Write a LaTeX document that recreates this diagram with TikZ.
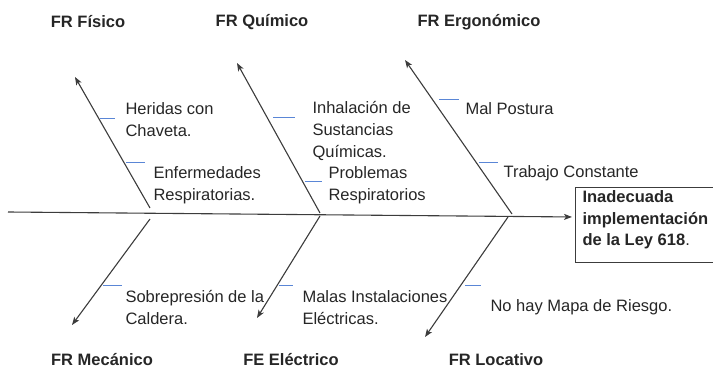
\documentclass[tikz,border=0pt]{standalone}
\usepackage{fontspec}
\setmainfont{Liberation Sans}
\usetikzlibrary{arrows.meta,positioning}
\definecolor{azul}{HTML}{5A86D6}
\definecolor{tinta}{HTML}{262626}

\begin{document}
\begin{tikzpicture}[->,>={Stealth[length=8pt,width=6pt,inset=2pt]},x=1pt,y=-1pt,line width=1.1pt,
		font=\fontsize{16.5}{22}\selectfont,text=tinta,draw=tinta!90]
		\tikzstyle{every node}=[inner sep=0pt]
		\tikzstyle{cabecera}=[font=\fontsize{16.5}{22}\selectfont\bfseries]
		\tikzstyle{causa}=[anchor=west,align=left]
		\tikzstyle{marca}=[-,draw=azul,line width=1pt]
		
		\useasboundingbox (0,0) rectangle (713,371);
		
		% categorias
		\node[cabecera] (fisico) at (88,22) {FR Físico};
		\node[cabecera] (quimico) at (262,22) {FR Químico};
		\node[cabecera] (ergonomico) at (479,22) {FR Ergonómico};
		\node[cabecera] (mecanico) at (102,360) {FR Mecánico};
		\node[cabecera] (electrico) at (291,360) {FE Eléctrico};
		\node[cabecera] (locativo) at (496,360) {FR Locativo};
		
		% efecto
		\node[draw,line width=1pt,anchor=north west,minimum width=150,minimum height=75] (caja) at (575,187) {};
		\node[anchor=north west,align=left,font=\fontsize{16.5}{21.5}\selectfont\bfseries]
			(efecto) at ([xshift=7pt,yshift=-3pt]caja.north west)
			{Inadecuada\\implementación\\de la Ley 618{\mdseries.}};
		
		% causas
		\node[causa] (heridas) at (125,120) {Heridas con\\Chaveta.};
		\node[causa] (enfermedades) at (153,185) {Enfermedades\\Respiratorias.};
		\node[causa] (inhalacion) at (312,131) {Inhalación de\\Sustancias\\Químicas.};
		\node[causa] (problemas) at (328,185) {Problemas\\Respiratorios};
		\node[causa] (postura) at (465,109) {Mal Postura};
		\node[causa] (trabajo) at (503,173) {Trabajo Constante};
		\node[causa] (sobrepresion) at (125,308) {Sobrepresión de la\\Caldera.};
		\node[causa] (instalaciones) at (302,308) {Malas Instalaciones\\Eléctricas.};
		\node[causa] (mapa) at (490,307) {No hay Mapa de Riesgo.};
		
		% espinas
		\coordinate (cola) at (8,212);
		\coordinate (a1) at (150,208); \coordinate (f1) at (75,77);
		\coordinate (a2) at (320,213); \coordinate (f2) at (237,63);
		\coordinate (a3) at (512,214); \coordinate (f3) at (405,60);
		\coordinate (b1) at (150,219); \coordinate (g1) at (72,325);
		\coordinate (b2) at (320,216); \coordinate (g2) at (257,318);
		\coordinate (b3) at (508,217); \coordinate (g3) at (425,337);
		
		\draw[shorten >=3pt] (cola) -- (caja.west |- 0,217);
		\draw (a1) -- (f1);
		\draw (a2) -- (f2);
		\draw (a3) -- (f3);
		\draw (b1) -- (g1);
		\draw (b2) -- (g2);
		\draw (b3) -- (g3);
		
		% marcas
		\draw[marca] (100,119) -- (115,119);
		\draw[marca] (126,163) -- (145,163);
		\draw[marca] (273,118) -- (295,118);
		\draw[marca] (305,182) -- (322,182);
		\draw[marca] (439,100) -- (459,100);
		\draw[marca] (479,163) -- (498,163);
		\draw[marca] (103,286) -- (122,286);
		\draw[marca] (279,286) -- (293,286);
		\draw[marca] (465,286) -- (481,286);
\end{tikzpicture}
\end{document}
